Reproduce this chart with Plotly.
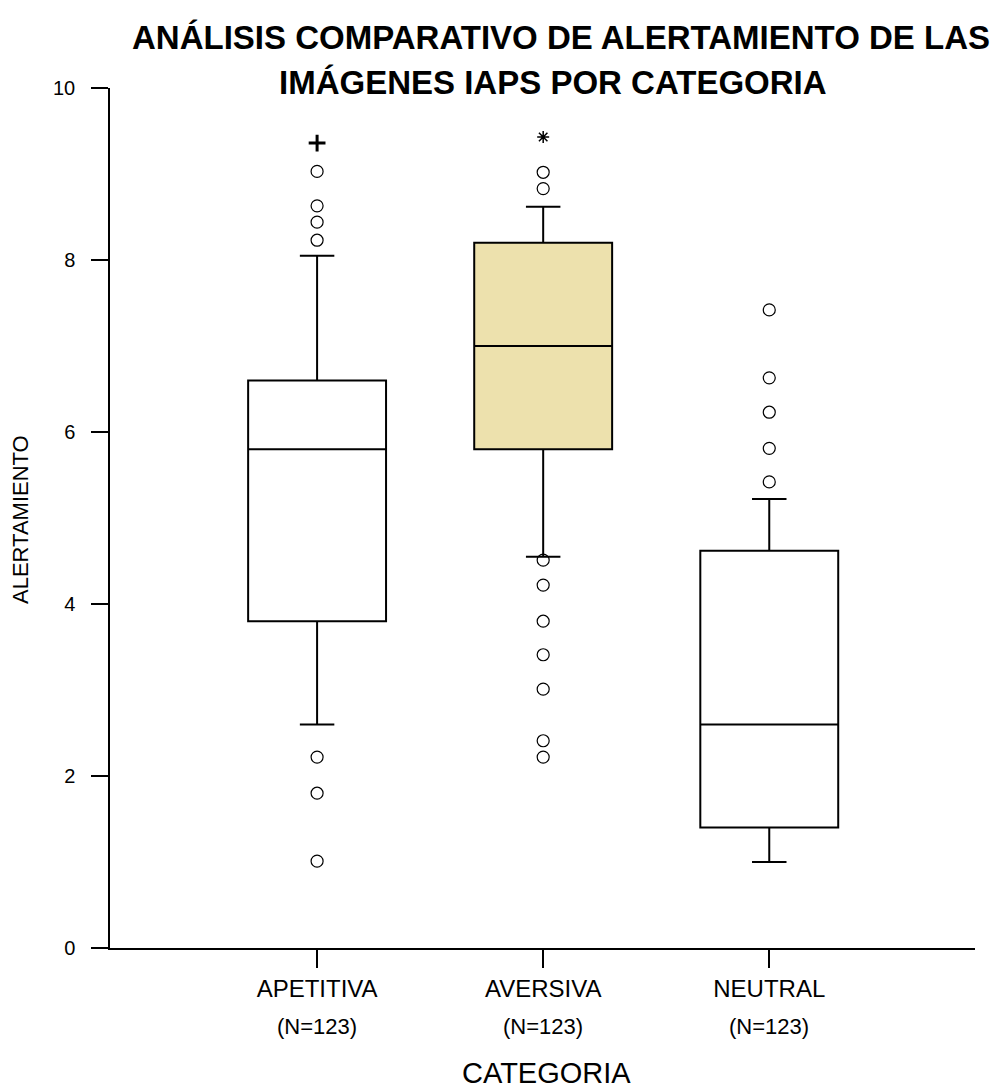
import plotly.graph_objects as go

categories = ["APETITIVA", "AVERSIVA", "NEUTRAL"]
n_labels = ["(N=123)", "(N=123)", "(N=123)"]
q1 = [3.8, 5.8, 1.4]
median = [5.8, 7.0, 2.6]
q3 = [6.6, 8.2, 4.62]
lowerfence = [2.6, 4.55, 1.0]
upperfence = [8.05, 8.62, 5.22]
fills = ["#FFFFFF", "#EDE1AD", "#FFFFFF"]

outliers = {
    "APETITIVA": [8.23, 8.44, 8.63, 9.03, 2.22, 1.8, 1.01],
    "AVERSIVA": [8.83, 9.02, 4.51, 4.22, 3.8, 3.41, 3.01, 2.41, 2.22],
    "NEUTRAL": [5.42, 5.81, 6.23, 6.63, 7.42],
}
extremes_plus = {"APETITIVA": [9.36]}
extremes_star = {"AVERSIVA": [9.43]}

title_lines = ["ANÁLISIS COMPARATIVO DE ALERTAMIENTO DE LAS", "IMÁGENES IAPS POR CATEGORIA"]

fig = go.Figure()
for i, c in enumerate(categories):
    fig.add_trace(go.Box(
        x=[c], q1=[q1[i]], median=[median[i]], q3=[q3[i]],
        lowerfence=[lowerfence[i]], upperfence=[upperfence[i]],
        fillcolor=fills[i], line=dict(color="black", width=2),
        width=0.61, whiskerwidth=0.25, boxpoints=False,
        showlegend=False, hoverinfo="skip",
    ))

for c, vals in outliers.items():
    fig.add_trace(go.Scatter(
        x=[c] * len(vals), y=vals, mode="markers",
        marker=dict(symbol="circle-open", size=12, color="black", line=dict(width=1.2)),
        showlegend=False,
    ))
for c, vals in extremes_plus.items():
    fig.add_trace(go.Scatter(
        x=[c] * len(vals), y=vals, mode="markers",
        marker=dict(symbol="cross-thin", size=12, color="black", line=dict(width=3, color="black")),
        showlegend=False,
    ))
for c, vals in extremes_star.items():
    fig.add_trace(go.Scatter(
        x=[c] * len(vals), y=vals, mode="markers",
        marker=dict(symbol="asterisk", size=10, color="black", line=dict(width=1.5, color="black")),
        showlegend=False,
    ))

def py(pix):
    return (948 - pix) / 860

annotations = [
    dict(text=f"<b>{title_lines[0]}</b>", x=(561 - 110) / 865, y=py(38), xref="paper", yref="paper",
         xanchor="center", yanchor="middle", showarrow=False, font=dict(size=33, color="black")),
    dict(text=f"<b>{title_lines[1]}</b>", x=(553 - 110) / 865, y=py(82), xref="paper", yref="paper",
         xanchor="center", yanchor="middle", showarrow=False, font=dict(size=33, color="black")),
    dict(text="CATEGORIA", x=(546 - 110) / 865, y=py(1073), xref="paper", yref="paper",
         xanchor="center", yanchor="middle", showarrow=False, font=dict(size=29, color="black")),
    dict(text="ALERTAMIENTO", x=(20 - 110) / 865, y=py(520), xref="paper", yref="paper",
         xanchor="center", yanchor="middle", textangle=-90, showarrow=False,
         font=dict(size=22, color="black")),
]
for c, n in zip(categories, n_labels):
    annotations.append(dict(text=n, x=c, xref="x", y=py(1026), yref="paper",
                            xanchor="center", yanchor="middle", showarrow=False,
                            font=dict(size=22, color="black")))

fig.update_layout(
    width=993, height=1088,
    paper_bgcolor="white", plot_bgcolor="white",
    margin=dict(l=110, r=18, t=88, b=140),
    font=dict(family="Liberation Sans, Arial, sans-serif", color="black"),
    xaxis=dict(
        type="category", categoryorder="array", categoryarray=categories,
        range=[-0.916, 2.91], showline=True, linecolor="black", linewidth=1.5,
        ticks="outside", ticklen=18, tickcolor="black", tickwidth=1.5,
        tickvals=categories, ticktext=categories, tickfont=dict(size=24),
        showgrid=False, zeroline=False,
    ),
    yaxis=dict(
        range=[0, 10], tickvals=[0, 2, 4, 6, 8, 10],
        showline=True, linecolor="black", linewidth=1.5,
        ticks="outside", ticklen=17, tickcolor="black", tickwidth=1.5,
        tickfont=dict(size=20), ticklabelstandoff=12,
        showgrid=False, zeroline=False,
    ),
    annotations=annotations,
)

fig.write_html("out.html")
